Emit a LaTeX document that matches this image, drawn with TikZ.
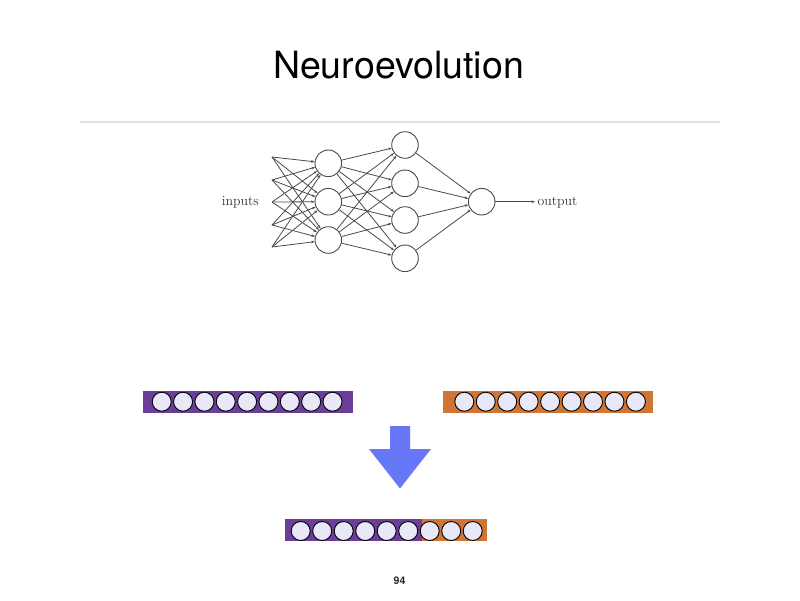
\documentclass[tikz,border=0pt]{standalone}
\usepackage{fontspec}
\newfontfamily\heros{TeX Gyre Heros}
\usetikzlibrary{arrows.meta}
\definecolor{barpurple}{HTML}{6C3D99}
\definecolor{barorange}{HTML}{D07535}
\definecolor{cellfill}{HTML}{E8E8F8}
\definecolor{bigarrow}{HTML}{6677F8}
\definecolor{rulegray}{HTML}{E3E3E3}
\definecolor{netgray}{HTML}{4A4A4A}
\tikzset{
  neuron/.style={circle, draw=netgray, line width=0.9pt, fill=white, minimum size=26.6pt, inner sep=0pt},
  conn/.style={draw=netgray, line width=0.8pt, -{Stealth[length=3.5pt,width=2.6pt]}},
  cell/.style={circle, draw=black, line width=0.9pt, fill=cellfill, minimum size=19pt, inner sep=0pt},
  nettext/.style={font=\fontsize{13.8}{16}\selectfont, text=black!80, inner sep=0pt}
}
\begin{document}
\begin{tikzpicture}[x=1pt,y=-1pt]
\useasboundingbox[fill=white] (0,0) rectangle (800,600);
% title
\node[font=\heros\fontsize{37.5}{40}\selectfont, anchor=base] (title) at (398.5,78.5) {Neuroevolution};
\draw[rulegray, line width=1.5pt] (80,122) -- (720,122);
% network
\foreach \i/\y in {1/157,2/180,3/202,4/225,5/247} \coordinate (in\i) at (272,\y);
\foreach \i/\y in {1/163.3,2/201.7,3/240} \node[neuron] (h\i) at (328.3,\y) {};
\foreach \i/\y in {1/145,2/183.3,3/220,4/258.3} \node[neuron] (g\i) at (405,\y) {};
\node[neuron] (out) at (481.7,201.7) {};
\coordinate (outend) at (535,201.7);
\foreach \i in {1,...,5} \foreach \j in {1,2,3} \draw[conn] (in\i) -- (h\j);
\foreach \i in {1,2,3} \foreach \j in {1,...,4} \draw[conn] (h\i) -- (g\j);
\foreach \i in {1,...,4} \draw[conn] (g\i) -- (out);
\draw[conn] (out) -- (outend);
\node[nettext, anchor=east] (inlabel) at (259,202.5) {inputs};
\node[nettext, anchor=west] (outlabel) at (537.5,202.5) {output};
% bars
\fill[barpurple] (143.3,390.7) rectangle (353.3,412.7);
\foreach \k in {0,...,8} \node[cell] (p\k) at (161.7+21.35*\k,401.7) {};
\fill[barorange] (443.3,390.7) rectangle (653.3,412.7);
\foreach \k in {0,...,8} \node[cell] (o\k) at (464.3+21.45*\k,401.7) {};
\fill[barpurple] (285,519.3) rectangle (421.7,540.7);
\fill[barorange] (421.7,519.3) rectangle (487.3,540.7);
\foreach \k in {0,...,8} \node[cell] (c\k) at (300.7+21.5*\k,531) {};
% big arrow
\fill[bigarrow] (390,426) -- (410,426) -- (410,449) -- (431,449) -- (400,488.5) -- (369,449) -- (390,449) -- cycle;
% page number
\node[font=\heros\bfseries\fontsize{10.5}{12}\selectfont, text=black!85] (page) at (399.5,580.5) {94};
\end{tikzpicture}
\end{document}
